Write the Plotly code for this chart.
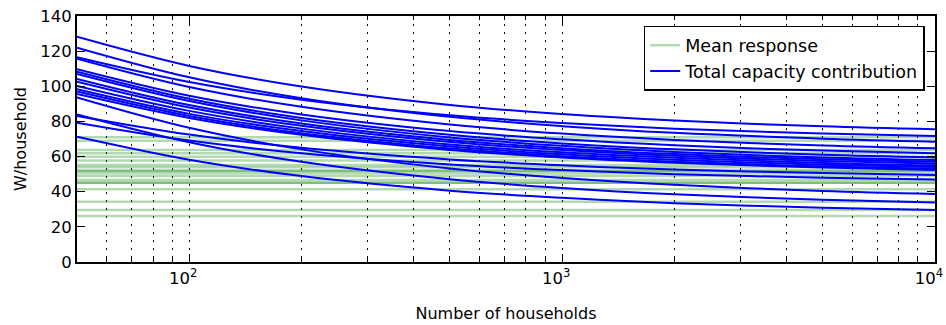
import plotly.graph_objects as go

# Number of households at which the capacity curves were read
households = [50, 100, 200, 500, 1000, 2000, 5000, 10000]

# Mean response per group (W/household), horizontal green lines
mean_response = [71.0, 69.0, 63.7, 61.9, 59.9, 57.7, 55.2, 53.9, 52.0, 52.0,
                 50.5, 48.9, 46.7, 45.1, 45.1, 41.4, 34.3, 29.6, 26.2]

# Total capacity contribution curves (W/household) read at `households`
cap_01 = [128.2, 111.6, 99.9, 89.4, 84.2, 80.5, 77.2, 75.5]
cap_02 = [122.0, 105.1, 93.2, 82.6, 77.3, 73.5, 70.2, 68.5]
cap_03 = [116.5, 102.4, 92.4, 83.5, 79.1, 75.9, 73.1, 71.7]
cap_04 = [115.7, 99.6, 88.3, 78.2, 73.1, 69.5, 66.3, 64.7]
cap_05 = [109.7, 94.6, 84.0, 74.5, 69.8, 66.4, 63.4, 61.9]
cap_06 = [108.3, 92.9, 82.0, 72.4, 67.5, 64.1, 61.0, 59.5]
cap_07 = [107.0, 91.6, 80.6, 70.9, 66.1, 62.6, 59.5, 58.0]
cap_08 = [104.2, 89.3, 78.8, 69.5, 64.8, 61.4, 58.5, 57.0]
cap_09 = [102.6, 87.9, 77.5, 68.3, 63.7, 60.4, 57.5, 56.0]
cap_10 = [100.2, 86.0, 75.9, 66.9, 62.4, 59.3, 56.4, 55.0]
cap_11 = [98.3, 84.3, 74.5, 65.7, 61.3, 58.2, 55.4, 54.0]
cap_12 = [97.0, 83.1, 73.3, 64.6, 60.2, 57.1, 54.4, 53.0]
cap_13 = [95.6, 82.0, 72.4, 63.8, 59.5, 56.5, 53.8, 52.4]
cap_14 = [93.7, 76.4, 64.1, 53.2, 47.8, 43.9, 40.4, 38.7]
cap_15 = [84.0, 68.2, 57.0, 47.1, 42.1, 38.5, 35.4, 33.8]
cap_16 = [83.1, 72.5, 65.0, 58.4, 55.0, 52.7, 50.6, 49.5]
cap_17 = [79.3, 69.1, 61.9, 55.5, 52.3, 50.0, 48.0, 47.0]
cap_18 = [71.3, 58.2, 48.9, 40.6, 36.5, 33.5, 30.9, 29.6]
capacity_curves = [cap_01, cap_02, cap_03, cap_04, cap_05, cap_06, cap_07, cap_08, cap_09,
                   cap_10, cap_11, cap_12, cap_13, cap_14, cap_15, cap_16, cap_17, cap_18]

x_major = [100, 1000, 10000]
x_major_text = ["10<sup>2</sup>", "10<sup>3</sup>", "10<sup>4</sup>"]
x_minor = [60, 70, 80, 90, 200, 300, 400, 500, 600, 700, 800, 900,
           2000, 3000, 4000, 5000, 6000, 7000, 8000, 9000]
y_ticks = [0, 20, 40, 60, 80, 100, 120, 140]

FONT = "DejaVu Sans"
GREEN = "rgba(0,128,0,0.3)"
BLUE = "#0000ff"

fig = go.Figure()
xmin, xmax = households[0], households[-1]

for i, m in enumerate(mean_response):
    fig.add_trace(go.Scatter(
        x=[xmin, xmax], y=[m, m], mode="lines",
        line=dict(color=GREEN, width=2.5),
        name="Mean response", legendgroup="mean", showlegend=(i == 0),
        hoverinfo="skip"))

for i, ys in enumerate(capacity_curves):
    fig.add_trace(go.Scatter(
        x=households, y=ys, mode="lines",
        line=dict(color=BLUE, width=2, shape="spline", smoothing=1.0),
        name="Total capacity contribution", legendgroup="cap", showlegend=(i == 0),
        hoverinfo="skip"))

fig.update_layout(
    width=946, height=325,
    margin=dict(l=77, r=11, t=16, b=63, autoexpand=False),
    paper_bgcolor="white", plot_bgcolor="white",
    font=dict(family=FONT, size=16, color="black"),
    legend=dict(
        x=0.988, y=0.96, xanchor="right", yanchor="top",
        bgcolor="white", bordercolor="black", borderwidth=1.5,
        font=dict(family=FONT, size=17.5, color="black"),
        tracegroupgap=0, itemwidth=30),
)

fig.update_xaxes(
    type="log", range=[1.69897, 4.0],
    tickvals=x_major, ticktext=x_major_text,
    ticks="inside", ticklen=8, tickwidth=1, tickcolor="black",
    showline=True, linecolor="black", linewidth=2, mirror="ticks",
    showgrid=True, gridcolor="black", gridwidth=1, griddash="2px,6px",
    minor=dict(tickvals=x_minor, ticks="inside", ticklen=4, tickcolor="black",
               showgrid=True, gridcolor="black", gridwidth=1, griddash="2px,6px"),
    tickfont=dict(family=FONT, size=16.5),
    ticklabeloverflow="allow", ticklabelshift=-6, automargin=False,
    title=dict(text="Number of households", font=dict(family=FONT, size=16), standoff=21),
    zeroline=False,
)

fig.update_yaxes(
    range=[0, 140], tickvals=y_ticks,
    ticks="inside", ticklen=8, tickwidth=1, tickcolor="black",
    showline=True, linecolor="black", linewidth=2, mirror="ticks",
    showgrid=False, zeroline=False, automargin=False,
    tickfont=dict(family=FONT, size=16.5),
    title=dict(text="W/household", font=dict(family=FONT, size=16), standoff=10),
)

fig.write_html("out.html")
